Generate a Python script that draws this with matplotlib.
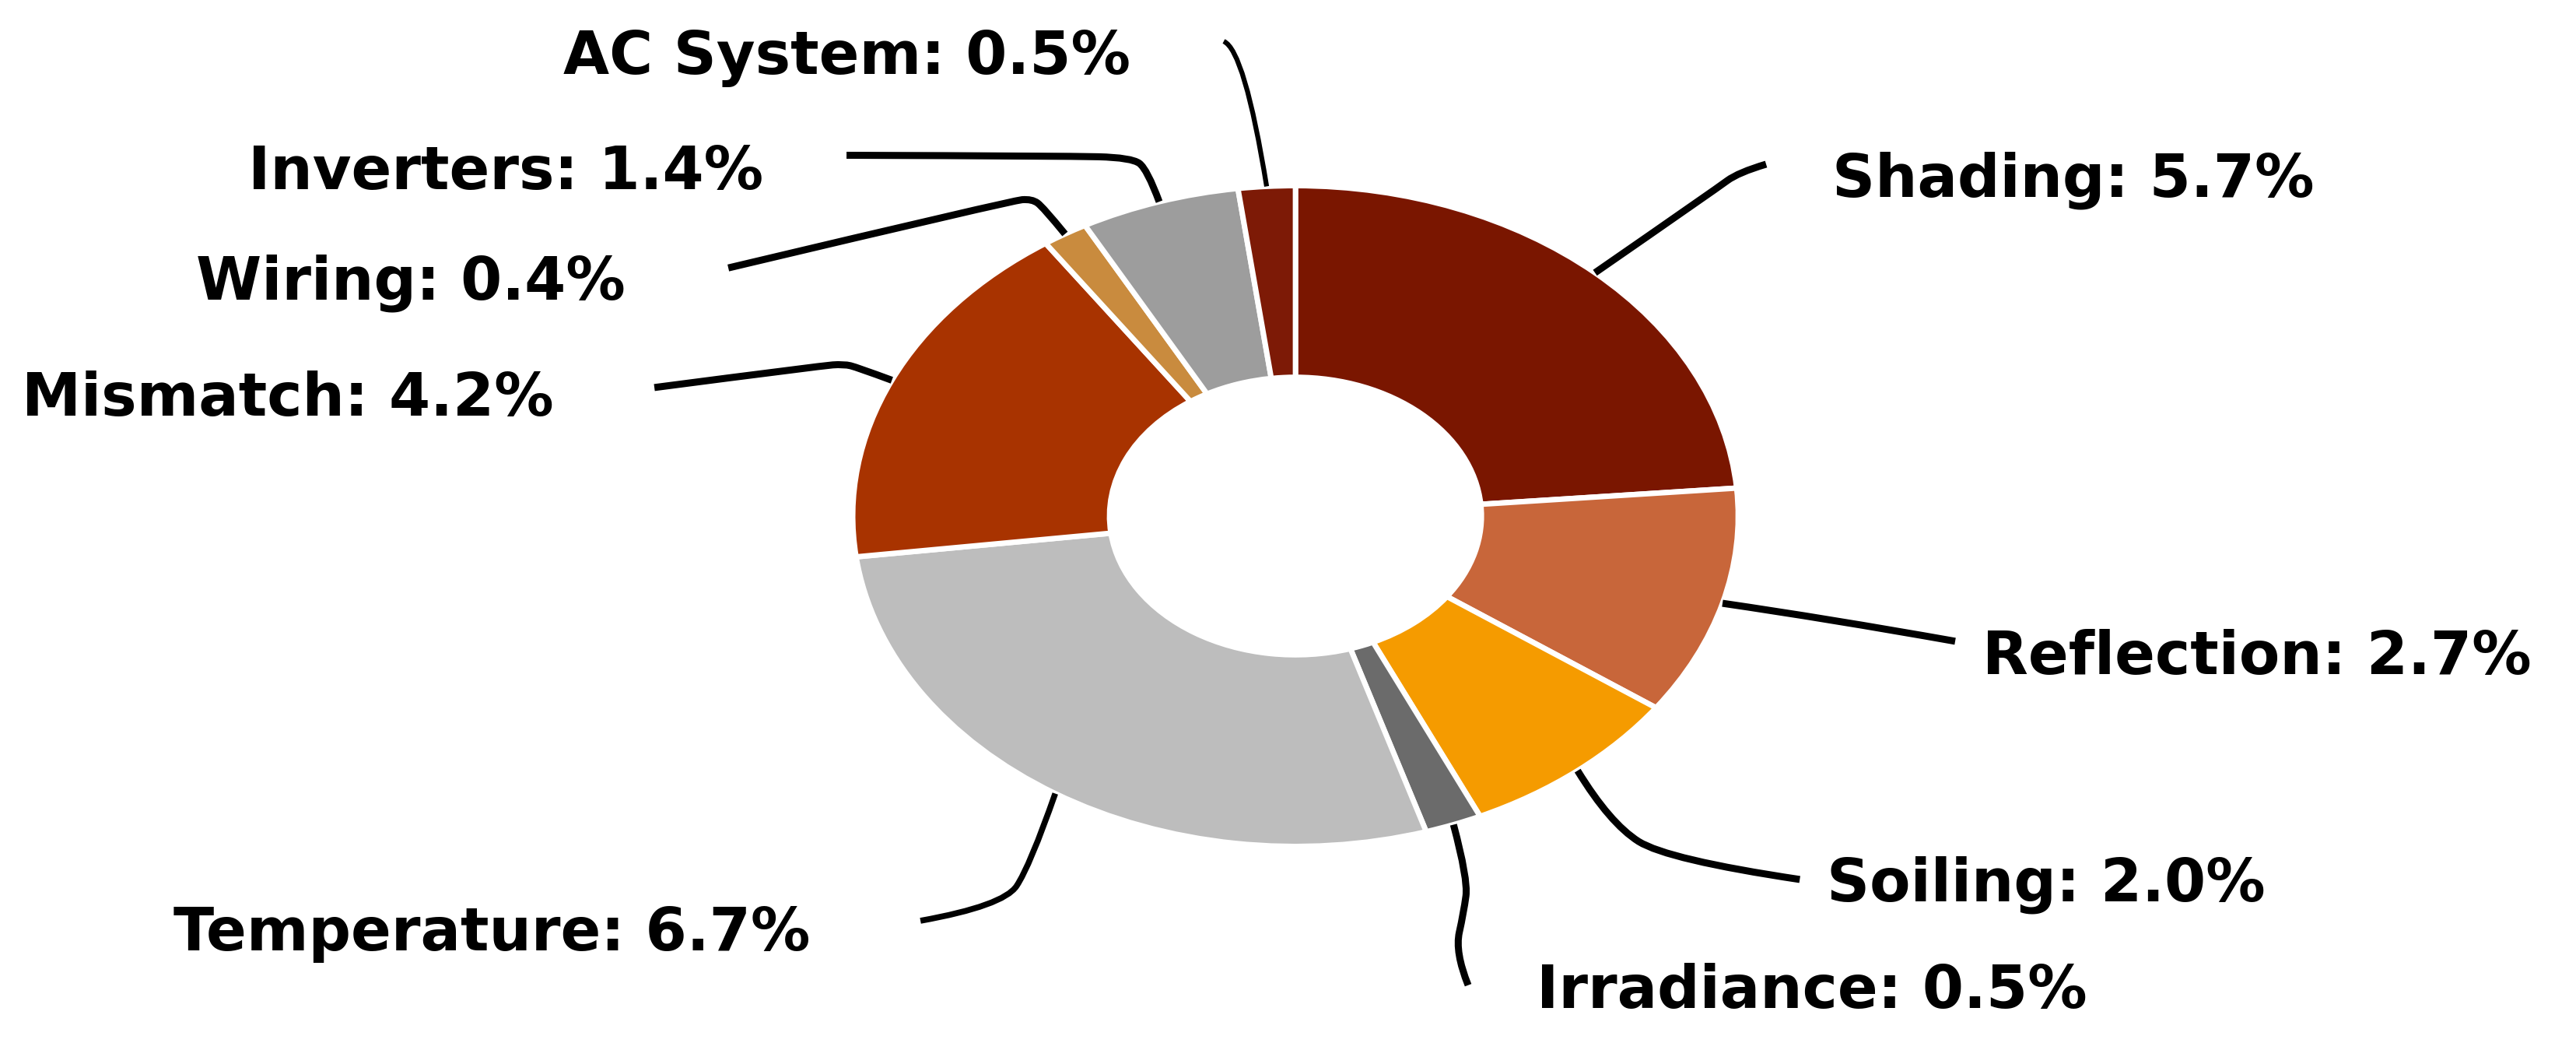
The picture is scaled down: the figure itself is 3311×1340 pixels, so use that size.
import numpy as np
import matplotlib
matplotlib.use("Agg")
import matplotlib.pyplot as plt
from matplotlib.path import Path
from matplotlib.patches import PathPatch

# loss categories, clockwise from 12 o'clock
categories = ["Shading", "Reflection", "Soiling", "Irradiance", "Temperature",
              "Mismatch", "Wiring", "Inverters", "AC System"]
losses = [5.7, 2.7, 2.0, 0.5, 6.7, 4.2, 0.4, 1.4, 0.5]
colors = ["#7a1600", "#c8663a", "#f59b00", "#6b6b6b", "#bdbdbd",
          "#a83300", "#c98b3e", "#9d9d9d", "#7d1a06"]

# label layout: text centre x, baseline y (data units)
label_pos = {
    "Shading": (1.757, 0.966),
    "Reflection": (2.172, -0.478),
    "Soiling": (1.696, -1.164),
    "Irradiance": (1.167, -1.489),
    "Temperature": (-1.815, -1.314),
    "Mismatch": (-2.276, 0.304),
    "Wiring": (-1.998, 0.655),
    "Inverters": (-1.784, 0.989),
    "AC System": (-1.014, 1.338),
}
# leader waypoints after the anchor on the ring
leader_pts = {
    "Shading": [(0.95, 0.99), (1.0, 1.04), (1.063, 1.065)],
    "Reflection": [(1.2, -0.31), (1.49, -0.379)],
    "Soiling": [(0.71, -0.93), (0.84, -1.04), (1.139, -1.10)],
    "Irradiance": [(0.39, -1.10), (0.38, -1.20), (0.36, -1.32), (0.39, -1.42)],
    "Temperature": [(-0.60, -1.06), (-0.66, -1.18), (-0.847, -1.225)],
    "Mismatch": [(-0.99, 0.45), (-1.02, 0.46), (-1.07, 0.455), (-1.448, 0.389)],
    "Wiring": [(-0.57, 0.935), (-0.595, 0.96), (-0.64, 0.955), (-1.281, 0.751)],
    "Inverters": [(-0.335, 1.05), (-0.37, 1.085), (-0.52, 1.09), (-1.014, 1.092)],
    "AC System": [(-0.115, 1.41), (-0.162, 1.437)],
}
line_w = {"AC System": 4.5, "Temperature": 5.5}


def smooth_path(pts):
    verts = [pts[0]]
    codes = [Path.MOVETO]
    for i in range(1, len(pts) - 1):
        mid = ((pts[i][0] + pts[i + 1][0]) / 2, (pts[i][1] + pts[i + 1][1]) / 2)
        if i == len(pts) - 2:
            mid = pts[-1]
        verts += [pts[i], mid]
        codes += [Path.CURVE3, Path.CURVE3]
    if len(pts) == 2:
        verts.append(pts[1])
        codes.append(Path.LINETO)
    return Path(verts, codes)


fig = plt.figure(figsize=(33.12, 13.4), dpi=100)
ax = fig.add_axes([0, 0, 1, 1])

wedges, _ = ax.pie(losses, colors=colors, startangle=90, counterclock=False,
                   radius=1.0,
                   wedgeprops=dict(width=0.58, edgecolor="white", linewidth=5))
ax.set_aspect("auto")
ax.set_xlim(-2.926, 2.894)
ax.set_ylim(-1.595, 1.562)
ax.axis("off")

for w, name, val in zip(wedges, categories, losses):
    mid = np.deg2rad((w.theta1 + w.theta2) / 2)
    anchor = (np.cos(mid) * 1.0, np.sin(mid) * 1.0)
    path = smooth_path([anchor] + leader_pts[name])
    ax.add_patch(PathPatch(path, fill=False, edgecolor="black",
                           lw=line_w.get(name, 6.5), capstyle="butt"))
    x, y = label_pos[name]
    ax.text(x, y, f"{name}: {val:.1f}%", ha="center", va="baseline",
            fontsize=55, fontweight="bold", family="DejaVu Sans")

fig.savefig("out.png", dpi=100, facecolor="white")
